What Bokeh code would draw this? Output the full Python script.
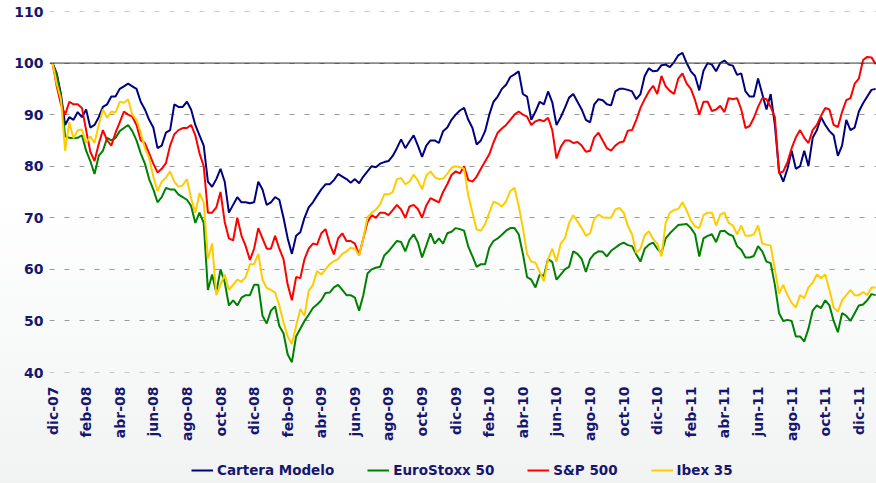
import math
from bokeh.plotting import figure
from bokeh.layouts import column
from bokeh.models import Range1d, FixedTicker, Span, Legend, LegendItem
from bokeh.embed import file_html
from bokeh.resources import INLINE

# time axis: quarter-month steps, 0 = dic-07
months = [i * 0.25 for i in range(197)]
tick_pos = list(range(0, 49, 2))
tick_labels = ["dic-07", "feb-08", "abr-08", "jun-08", "ago-08", "oct-08", "dic-08",
               "feb-09", "abr-09", "jun-09", "ago-09", "oct-09", "dic-09",
               "feb-10", "abr-10", "jun-10", "ago-10", "oct-10", "dic-10",
               "feb-11", "abr-11", "jun-11", "ago-11", "oct-11", "dic-11"]
y_ticks = [40, 50, 60, 70, 80, 90, 100, 110]

cartera = [100, 98, 94, 88, 89.5, 89, 90.5, 89.5, 91, 87.5, 88, 89.5, 91.5, 92, 93.5, 93.5, 95, 95.5, 96, 95.5,
           95, 92.5, 91, 89, 87.5, 83.5, 84, 86.5, 87, 92, 91.5, 91.5, 92.5, 91, 88, 86, 84, 77, 76, 77.5,
           79.5, 77, 71, 72.5, 74, 73, 73, 72.8, 73, 77, 75.5, 72.5, 73, 74, 73.5, 70, 66, 63, 66.5, 67.2,
           70, 72, 73, 74.3, 75.5, 76.5, 76.5, 77.3, 78.5, 78, 77.5, 76.8, 77.5, 76.7, 78, 79, 80, 79.8, 80.5, 80.8,
           81, 82, 83.5, 85.2, 83.5, 84.8, 86, 84, 81.8, 84, 85, 85, 84.5, 86.8, 87.5, 89, 90, 90.8, 91.3, 89,
           87.4, 84.2, 85, 86.8, 90, 92.5, 93.5, 95, 95.8, 97.3, 97.8, 98.4, 94, 93.5, 89, 90.6, 92.5, 92, 94.5, 92.4,
           88, 89.5, 91.3, 93.3, 94, 92.5, 91, 89, 88.5, 92, 93, 92.8, 92, 91.8, 94.5, 95, 95, 94.8, 94.5, 93,
           94, 97.5, 99, 98.4, 98.5, 99.6, 99.7, 99.2, 100.2, 101.5, 102, 100, 98.4, 97.5, 94.7, 98.5, 100, 99.7, 98.4, 100,
           100.5, 99.7, 99.5, 97.7, 98, 94.5, 93.5, 93.5, 97, 94, 91, 94, 88, 79, 77, 79.5, 83, 79.5, 80, 83,
           80, 85.5, 87, 89.5, 88, 86.8, 86, 82, 84, 89, 87, 87.5, 90.6, 92.2, 93.5, 94.8, 95]

eurostoxx = [100, 97.7, 93.5, 85.8, 85.5, 85.4, 85.5, 86, 83, 81, 78.5, 82, 83, 85.5, 85, 85.5, 86.8, 87.4, 88, 86.8,
             85, 82.5, 80.5, 77.5, 75.5, 73, 74, 75.8, 75.5, 75.5, 74.5, 74, 73.5, 72.3, 69, 71, 69, 56, 59, 55.5,
             60, 57.5, 53, 54, 53, 54.5, 55, 55, 57, 57, 51, 49.5, 52, 52.8, 49, 47.6, 43.5, 42, 47, 48.5,
             50, 51.2, 52.5, 53.2, 54, 55.4, 55.5, 56.5, 57, 56, 55, 55, 54.5, 52, 55, 59.2, 60, 60.3, 60.5, 62.7,
             63.5, 64.5, 65.5, 65.3, 63.5, 65.7, 66.8, 65.2, 62.3, 64.6, 67, 65, 66, 65, 67, 67.3, 68, 67.8, 67.5, 64.4,
             62.5, 60.5, 61, 61, 64.2, 65.5, 66, 66.7, 67.5, 68, 68, 66.8, 63, 58.5, 58, 56.5, 59, 58.7, 62, 61.4,
             58, 59, 60, 60.5, 63.5, 63, 62, 59.5, 62, 63, 63.5, 63.4, 62.5, 63.6, 64.2, 64.8, 65.2, 64.7, 64.5, 62.9,
             61.5, 64, 64.8, 65.2, 64, 63.2, 66, 67, 67.8, 68.6, 68.7, 68.8, 68, 66.8, 62.5, 66, 66.5, 66.8, 65.3, 67.4,
             67.5, 66.8, 66.5, 64.5, 63.8, 62.3, 62.3, 62.6, 64.5, 63.5, 61.5, 61.2, 57, 51.5, 50, 50.2, 50, 47, 47, 46,
             48.5, 52, 53, 52.5, 54, 53, 50, 47.8, 51.5, 51, 50, 51.5, 53, 53.2, 54, 55.2, 55]

sp500 = [100, 95.5, 92, 90, 92.5, 92, 92, 91.3, 87, 82.8, 81, 84.3, 87, 85, 84, 86.5, 88.5, 90.6, 90, 89.6,
         88, 85, 84.5, 82.5, 80.5, 78.8, 79.5, 80.6, 84, 86.2, 87, 87.4, 87.4, 88, 86, 82.5, 80, 71, 71, 72,
         75, 69.2, 66, 65.6, 70, 66.5, 64.5, 61.8, 64, 68, 66, 64, 64, 66.5, 64, 62, 57, 54, 58.5, 58.3,
         62, 64, 65, 64.8, 67, 67.8, 65, 62.9, 66, 67, 65.5, 65.5, 65, 62.8, 66, 69.2, 70.5, 70, 71, 71,
         70.5, 71.5, 72.5, 71.6, 70, 72.2, 72.5, 71.7, 70, 72.4, 73.8, 73.4, 73, 75, 76.5, 78.3, 79, 78.6, 80, 77.3,
         77, 78, 79.5, 80.9, 82.3, 84.6, 86.5, 87.3, 88, 89, 90, 90.6, 90, 89.6, 88, 88.7, 89, 88.7, 89.4, 87,
         81.5, 83.7, 85, 85, 84.5, 84.7, 84, 82.8, 83, 85.6, 86.5, 85, 83.5, 83, 84, 84.6, 84.8, 86.9, 87, 89,
         91.3, 93, 94.5, 95.6, 94, 97.5, 95.5, 94.6, 94, 97, 98, 96, 95, 92.8, 90, 92.5, 92.5, 90.7, 91, 91.7,
         90.5, 93.2, 93, 93.2, 91, 87.4, 87.8, 89.4, 91.5, 93.2, 93, 91.5, 89.5, 78.6, 79, 80.8, 83.5, 85.6, 87, 85.5,
         84.5, 87, 88, 89.8, 91.3, 91, 88, 87.6, 90.5, 92.8, 93.2, 96, 97, 100.6, 101.2, 101.1, 99.8]

ibex = [100, 96, 93, 83, 88.5, 85.4, 87, 87.1, 84.5, 85.8, 84.5, 88, 91, 89.4, 90.6, 90.4, 92.5, 92.3, 93, 90,
        89, 86.5, 83.5, 81.6, 78, 75.2, 77, 77.8, 79, 77, 76, 76.3, 77.5, 73.8, 71, 74.8, 73, 62, 65, 55,
        57, 59, 56, 57, 58, 57.6, 58.5, 61, 61, 63, 58, 56.4, 56, 55.5, 53, 49.7, 47, 45.5, 49, 52.3,
        51, 55.8, 57, 59.7, 59, 60, 61, 61.6, 62, 63, 63.5, 64.2, 64, 62.7, 66, 70.1, 71, 71.6, 72.6, 74.6,
        74.5, 75, 77.5, 77.7, 76.5, 77, 78.4, 77.2, 75.5, 78.2, 79, 77.9, 77.5, 77.6, 78.5, 79.7, 80, 79.8, 79.5, 74.3,
        71, 67.7, 67.5, 68.8, 71, 73.1, 72.8, 72.2, 73.2, 75.2, 75.8, 72.3, 68, 63, 61.5, 61.3, 59.5, 57.7, 62, 64,
        61.5, 65, 66, 69, 70.5, 69.3, 68, 66.5, 67, 69.8, 70.6, 70.1, 70, 70, 71.6, 71.9, 71, 68.4, 66.8, 63.2,
        64, 66.6, 67.4, 65.9, 65, 62.5, 69, 71, 71.5, 71.7, 73, 71.4, 69.5, 68.3, 68, 70.5, 71, 71, 68.5, 70.6,
        71, 69, 68.5, 66.8, 68.5, 66.5, 66.5, 66.8, 68.5, 65, 64.8, 64.6, 60, 55.3, 57, 55, 53.5, 52.6, 55, 54.4,
        56.5, 57.4, 59, 58.3, 59, 56, 52.6, 51.8, 54, 55, 56, 55, 55, 55.6, 55, 56.5, 56.5]

series_names = ["Cartera Modelo", "EuroStoxx 50", "S&P 500", "Ibex 35"]
series_colors = ["#000080", "#008000", "#ff0000", "#ffcc00"]
series_data = [cartera, eurostoxx, sp500, ibex]
text_color = "#16166e"

p = figure(width=876, height=455, output_backend="svg", toolbar_location=None,
           x_range=Range1d(-0.18, 49.05), y_range=Range1d(40, 110),
           min_border_left=49, min_border_right=0, min_border_top=11,
           min_border_bottom=83)
p.outline_line_color = None
p.background_fill_color = "white"
p.background_fill_alpha = 0
p.border_fill_color = "white"
p.border_fill_alpha = 0
p.grid.visible = False

# dashed horizontal gridlines at the y ticks, drawn as a glyph
p.hspan(y=y_ticks, line_color="#9a9a9a", line_width=1.2, line_dash="5 10")

for ax in (p.xaxis[0], p.yaxis[0]):
    ax.axis_line_color = None
    ax.major_tick_line_color = None
    ax.minor_tick_line_color = None
    ax.major_label_text_font = "DejaVu Sans"
    ax.major_label_text_font_style = "bold"
    ax.major_label_text_font_size = "14px"
    ax.major_label_text_color = text_color

p.yaxis.ticker = FixedTicker(ticks=y_ticks)
p.yaxis.major_label_standoff = 0
p.xaxis.ticker = FixedTicker(ticks=tick_pos)
p.xaxis.major_label_overrides = {t: lbl for t, lbl in zip(tick_pos, tick_labels)}
p.xaxis.major_label_orientation = math.pi / 2
p.xaxis.major_label_standoff = 8

p.add_layout(Span(location=100, dimension="width", line_color="#333333", line_width=1))

for data, color in zip(series_data, series_colors):
    p.line(months, data, line_color=color, line_width=2)

# legend strip below the chart (its own copies of the series sit outside its visible range)
lp = figure(width=876, height=28, output_backend="svg", toolbar_location=None,
            min_border=0, x_range=Range1d(0, 1), y_range=Range1d(0, 1))
lp.axis.visible = False
lp.grid.visible = False
lp.outline_line_color = None
lp.background_fill_alpha = 0
lp.border_fill_alpha = 0
legend_renderers = [lp.line(months, data, line_color=c, line_width=2)
                    for data, c in zip(series_data, series_colors)]
legend = Legend(items=[LegendItem(label=n, renderers=[r]) for n, r in zip(series_names, legend_renderers)],
                orientation="horizontal", location=(142, 5),
                border_line_color=None, background_fill_alpha=0,
                label_text_font="DejaVu Sans", label_text_font_style="bold",
                label_text_font_size="13.5px", label_text_color=text_color,
                glyph_width=22, glyph_height=14, spacing=33, label_standoff=4,
                padding=2, margin=0)
lp.add_layout(legend)

layout = column(p, lp, spacing=0)
layout.styles = {"background": "linear-gradient(to bottom, #ffffff 0%, #ffffff 40%, #f1f3f3 100%)"}

open("out.html", "w").write(file_html(layout, INLINE))
